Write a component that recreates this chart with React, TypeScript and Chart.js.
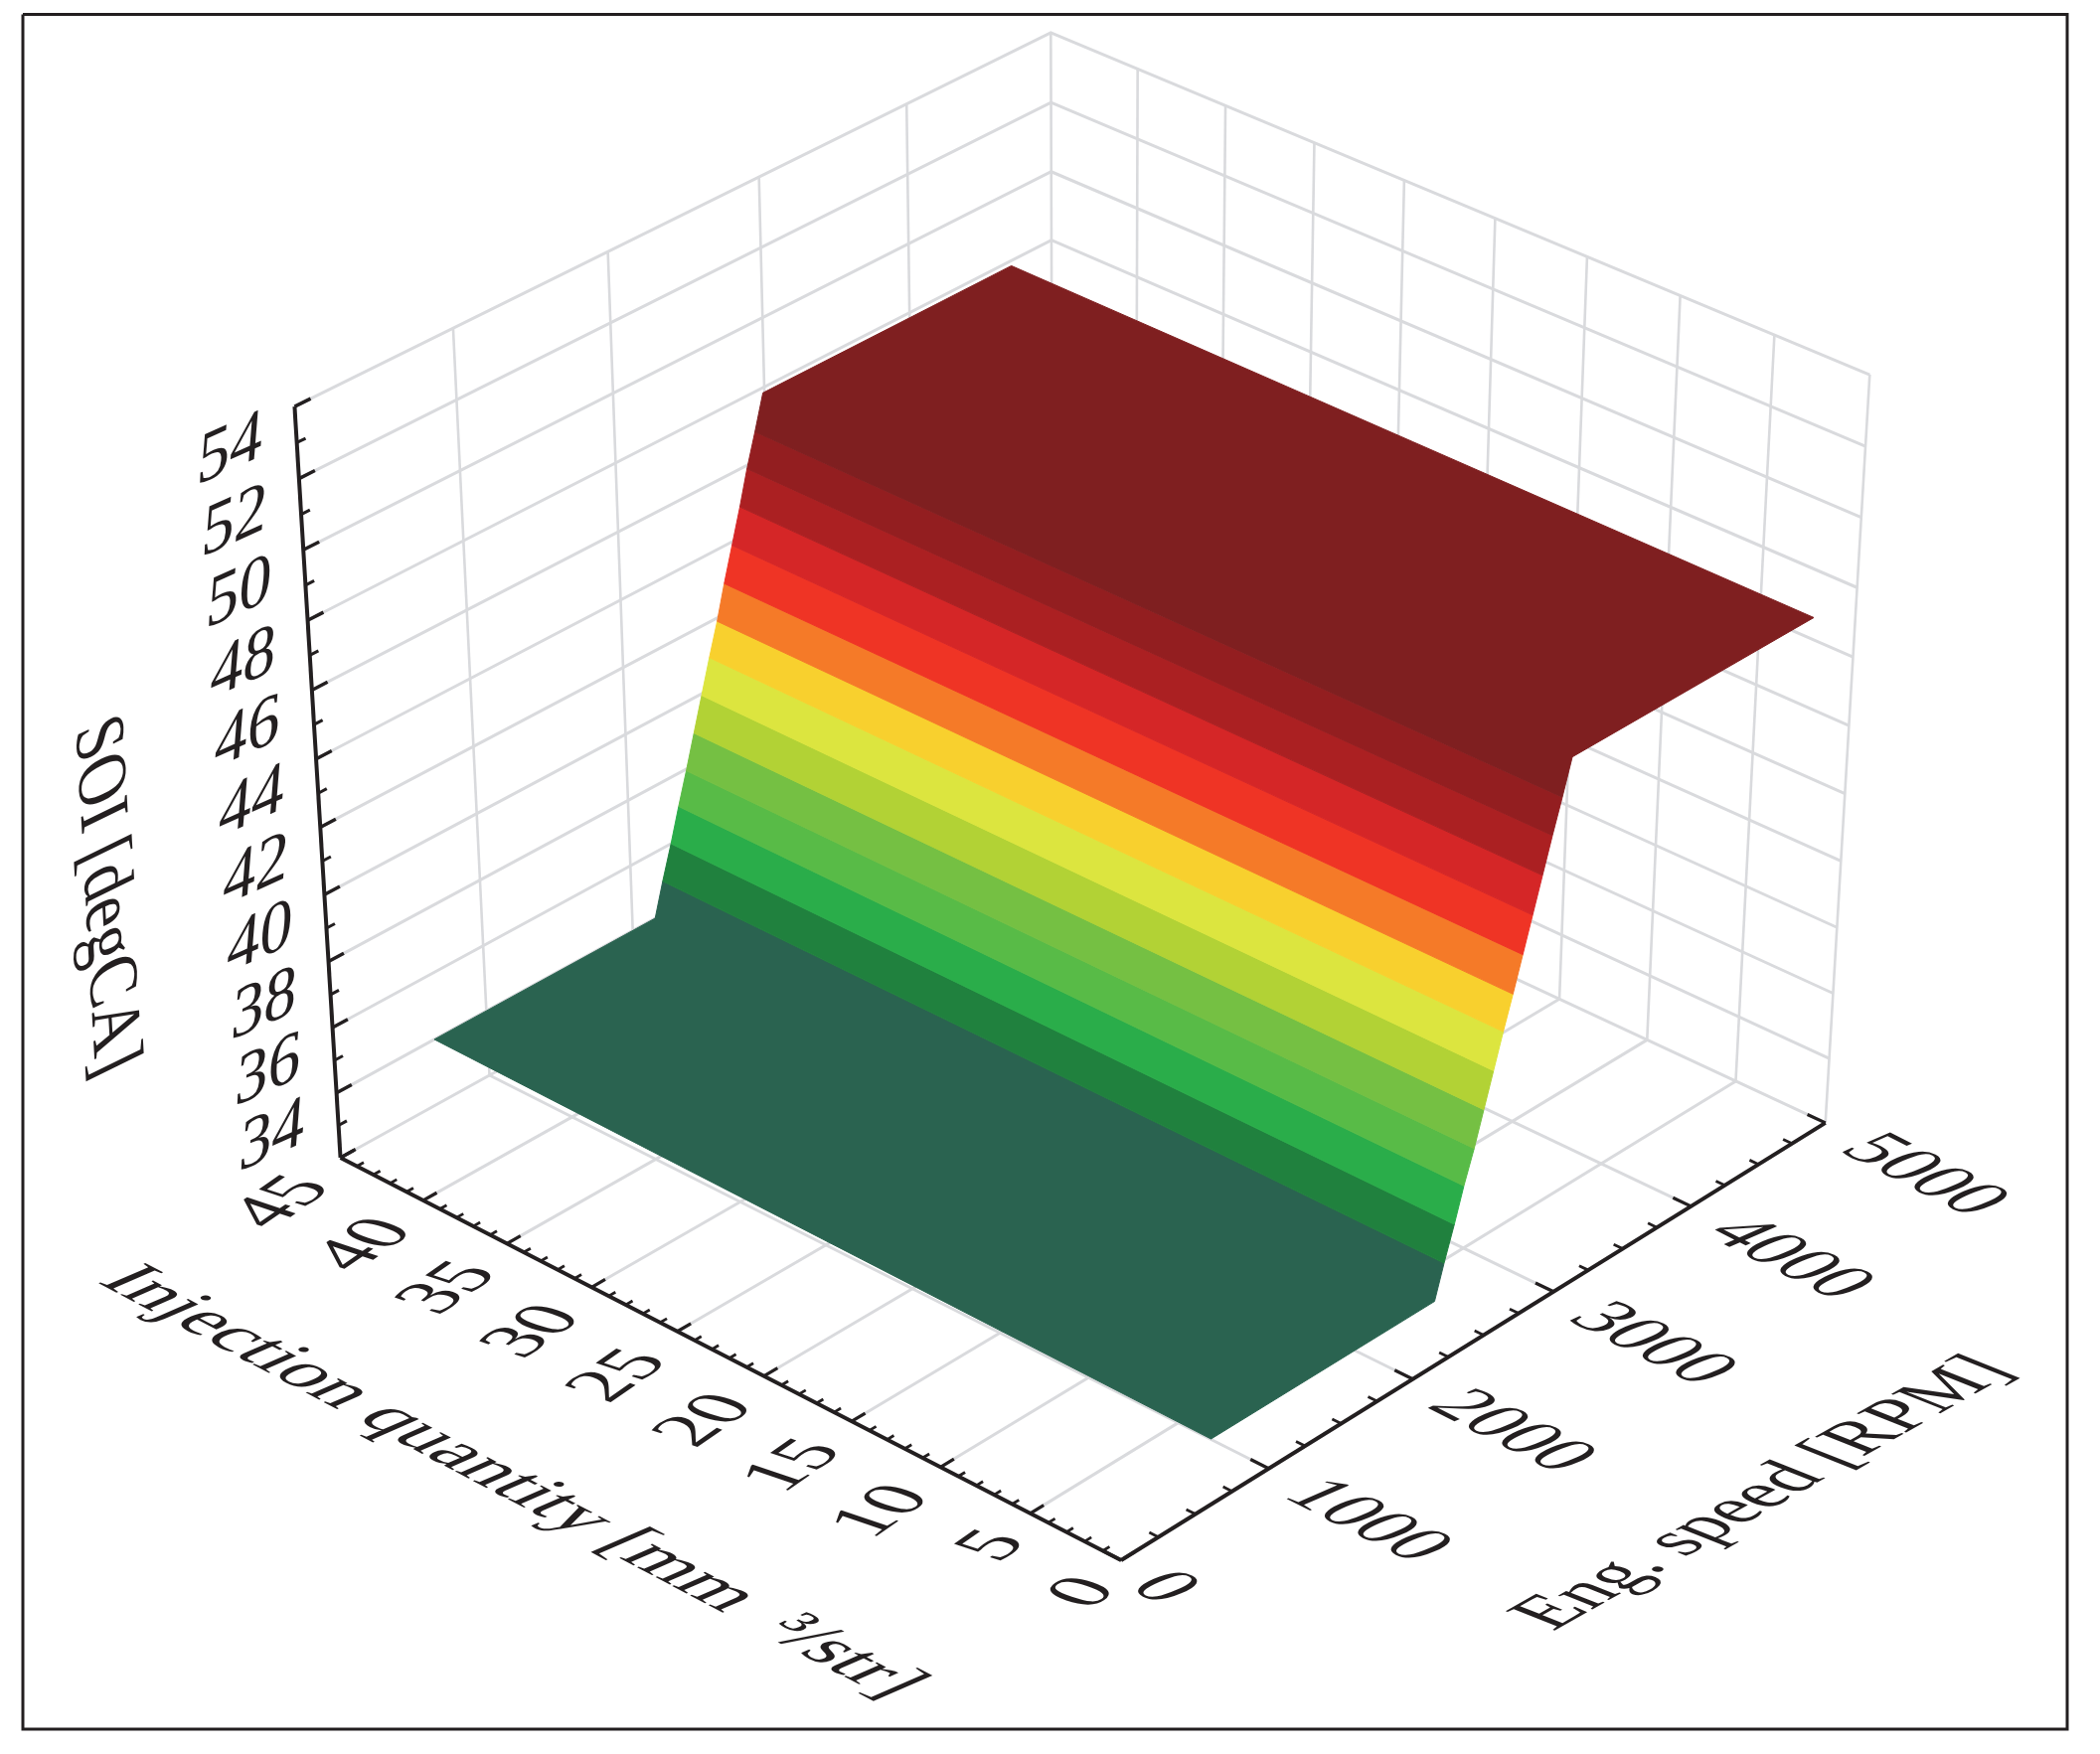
import React, { useEffect, useRef } from "react";
import { Chart, registerables } from "chart.js";

Chart.register(...registerables);

const speedMajor = [0, 1000, 2000, 3000, 4000, 5000];
const speedMinor = [250, 500, 750, 1250, 1500, 1750, 2250, 2500, 2750, 3250, 3500, 3750, 4250, 4500, 4750];
const injMajor = [0, 5, 10, 15, 20, 25, 30, 35, 40, 45];
const injMinor = [1, 2, 3, 4, 6, 7, 8, 9, 11, 12, 13, 14, 16, 17, 18, 19, 21, 22, 23, 24, 26, 27, 28, 29, 31, 32, 33, 34, 36, 37, 38, 39, 41, 42, 43, 44];
const soiMajor = [32, 34, 36, 38, 40, 42, 44, 46, 48, 50, 52, 54];
const soiMinor = [33, 35, 37, 39, 41, 43, 45, 47, 49, 51, 53];
const soiLabels = [34, 36, 38, 40, 42, 44, 46, 48, 50, 52, 54];

const soiLevels = [34, 35, 36, 37, 37.95, 38.95, 39.95, 40.95, 41.9, 42.9, 43.9, 44.9, 45.9, 46.85, 47.85];
const speedAtInj0 = [2140, 2200, 2265, 2325, 2390, 2450, 2510, 2570, 2630, 2690, 2750, 2810, 2870, 2930, 2990];
const speedAtInj45 = [2155, 2215, 2280, 2340, 2400, 2460, 2520, 2580, 2640, 2695, 2755, 2815, 2870, 2930, 2990];
const surfaceSpeedMinInj0 = 602;
const surfaceSpeedMinInj45 = 650;
const surfaceSpeedMaxInj0 = 4690;
const surfaceSpeedMaxInj45 = 4715;
const surfaceInjMin = 0;
const surfaceInjMax = 45;
const bandColors = ["#2a6350", "#20813e", "#2aad4a", "#58bb47", "#75c043", "#b2d235", "#dce53f", "#f8d02e", "#f57a28", "#ef3425", "#d52627", "#ab2022", "#931e20", "#7f1f20"];

// camera anchors: [speed, inj, soi, pixelX, pixelY]
const cameraAnchors = [
  [0, 0, 32, 1127, 1570],
  [0, 45, 32, 344, 1166],
  [5000, 0, 32, 1838, 1129],
  [5000, 45, 32, 1058, 768],
  [0, 45, 54, 296, 408],
  [5000, 45, 54, 1058, 33],
  [5000, 0, 54, 1881, 378],
];

function solveCamera(): number[] {
  const rows: number[][] = [];
  const rhs: number[] = [];
  for (const [s, i, z, X, Y] of cameraAnchors) {
    const u = s / 5000, v = i / 45, w = (z - 32) / 22;
    const x = X / 1000, y = Y / 1000;
    rows.push([u, v, w, 1, 0, 0, 0, 0, -x * u, -x * v, -x * w]);
    rhs.push(x);
    rows.push([0, 0, 0, 0, u, v, w, 1, -y * u, -y * v, -y * w]);
    rhs.push(y);
  }
  const n = 11;
  const A: number[][] = [];
  for (let a = 0; a < n; a++) {
    const r: number[] = [];
    for (let b = 0; b < n; b++) {
      let sum = 0;
      rows.forEach((row) => (sum += row[a] * row[b]));
      r.push(sum);
    }
    let t = 0;
    rows.forEach((row, k) => (t += row[a] * rhs[k]));
    r.push(t);
    A.push(r);
  }
  for (let c = 0; c < n; c++) {
    let p = c;
    for (let r = c + 1; r < n; r++) if (Math.abs(A[r][c]) > Math.abs(A[p][c])) p = r;
    [A[c], A[p]] = [A[p], A[c]];
    for (let r = 0; r < n; r++) {
      if (r === c) continue;
      const f = A[r][c] / A[c][c];
      for (let k = c; k <= n; k++) A[r][k] -= f * A[c][k];
    }
  }
  return A.map((r, i) => r[n] / r[i]);
}

const cam = solveCamera();
function project(speed: number, inj: number, soi: number) {
  const u = speed / 5000, v = inj / 45, w = (soi - 32) / 22;
  const d = cam[8] * u + cam[9] * v + cam[10] * w + 1;
  return {
    x: (1000 * (cam[0] * u + cam[1] * v + cam[2] * w + cam[3])) / d,
    y: (1000 * (cam[4] * u + cam[5] * v + cam[6] * w + cam[7])) / d,
  };
}

const GRID = "#d9dadd";
const INK = "#231f20";

function buildDatasets() {
  const list: any[] = [];
  const line = (pts: any[], color: string, width: number) =>
    list.push({ data: pts, showLine: true, pointRadius: 0, borderColor: color, borderWidth: width, fill: false, tension: 0 });
  const poly = (pts: any[], color: string) =>
    list.push({ data: [...pts, pts[0]], showLine: true, pointRadius: 0, borderColor: color, borderWidth: 1, backgroundColor: color, fill: "shape", tension: 0 });

  // frame
  line([{ x: 23, y: 14.5 }, { x: 2080, y: 14.5 }, { x: 2080, y: 1740 }, { x: 23, y: 1740 }, { x: 23, y: 14.5 }], INK, 3);

  // walls and floor grid
  for (const z of soiMajor) {
    line([project(0, 45, z), project(5000, 45, z), project(5000, 0, z)], GRID, 3);
  }
  for (const s of speedMajor) {
    if (s > 0) line([project(s, 45, 32), project(s, 45, 54)], GRID, 2.6);
    if (s > 0 && s < 5000) line([project(s, 0, 32), project(s, 45, 32)], GRID, 3);
  }
  for (const i of injMajor) {
    if (i < 45) line([project(5000, i, 32), project(5000, i, 54)], GRID, 2.6);
    if (i > 0 && i < 45) line([project(0, i, 32), project(5000, i, 32)], GRID, 3);
  }

  // surface
  const edge = (inj: number, k: number) => project(inj === surfaceInjMin ? speedAtInj0[k] : speedAtInj45[k], inj, soiLevels[k]);
  const last = soiLevels.length - 1;
  poly([
    project(surfaceSpeedMinInj45, surfaceInjMax, soiLevels[0]),
    project(surfaceSpeedMinInj0, surfaceInjMin, soiLevels[0]),
    edge(surfaceInjMin, 0), edge(surfaceInjMin, 1), edge(surfaceInjMax, 1), edge(surfaceInjMax, 0),
  ], bandColors[0]);
  for (let k = 1; k < last - 1; k++) {
    poly([edge(surfaceInjMin, k), edge(surfaceInjMin, k + 1), edge(surfaceInjMax, k + 1), edge(surfaceInjMax, k)], bandColors[k]);
  }
  poly([edge(surfaceInjMin, last - 1), edge(surfaceInjMin, last), project(surfaceSpeedMaxInj0, surfaceInjMin, soiLevels[last]),
    project(surfaceSpeedMaxInj45, surfaceInjMax, soiLevels[last]), edge(surfaceInjMax, last), edge(surfaceInjMax, last - 1)], bandColors[last - 1]);

  // axes
  line([project(0, 45, 32), project(0, 45, 54)], INK, 4);
  line([project(0, 45, 32), project(0, 0, 32)], INK, 4);
  line([project(0, 0, 32), project(5000, 0, 32)], INK, 4);
  for (const z of soiMajor) line([project(0, 45, z), project(100, 45, z)], INK, 3.4);
  for (const z of soiMinor) line([project(0, 45, z), project(55, 45, z)], INK, 3);
  for (const i of injMajor) line([project(0, i, 32), project(90, i, 32)], INK, 3.2);
  for (const i of injMinor) line([project(0, i, 32), project(45, i, 32)], INK, 2.8);
  for (const s of speedMajor) line([project(s, 0, 32), project(s, 1, 32)], INK, 3.2);
  for (const s of speedMinor) line([project(s, 0, 32), project(s, 0.5, 32)], INK, 2.8);

  const n = list.length;
  list.forEach((d, idx) => (d.order = n - idx));
  return list;
}

const FONT = '"Liberation Serif"';

function drawSheared(ctx: CanvasRenderingContext2D, text: string, x: number, y: number, size: number, ax: number, ay: number, bx: number, by: number, k: number, m: number) {
  ctx.save();
  ctx.translate(x, y);
  ctx.transform(ax * k, ay * k, bx * m, by * m, 0, 0);
  ctx.font = `${size}px ${FONT}`;
  ctx.fillStyle = INK;
  ctx.textAlign = "center";
  ctx.textBaseline = "middle";
  ctx.fillText(text, 0, 0);
  ctx.restore();
}

const textPlugin = {
  id: "sheared-labels",
  afterDatasetsDraw(chart: any) {
    const ctx = chart.ctx;
    const sx = chart.scales.x, sy = chart.scales.y;
    const at = (p: { x: number; y: number }, dx: number, dy: number) => [sx.getPixelForValue(p.x) + dx, sy.getPixelForValue(p.y) + dy];
    for (const z of soiLabels) {
      const [x, y] = at(project(0, 45, z), -65, 45);
      drawSheared(ctx, String(z), x, y, 60, 0.91, -0.41, -0.08, 1, 1.2, 1.25);
    }
    for (const i of injMajor) {
      const [dx, dy] = i < 10 ? [-37, 33] : [-58, 45];
      const [x, y] = at(project(0, i, 32), dx, dy);
      drawSheared(ctx, String(i), x, y, 60, 0.82, -0.57, 0.95, 0.32, 1.27, 1.3);
    }
    for (const s of speedMajor) {
      const [dx, dy] = s === 0 ? [42, 28] : [98, 53];
      const [x, y] = at(project(s, 0, 32), dx, dy);
      drawSheared(ctx, String(s), x, y, 60, 0.89, 0.45, -0.92, 0.4, 1.25, 1.32);
    }
    drawSheared(ctx, "Injection quantity [mm  ³/str]", 514, 1492, 60, 0.885, 0.467, -0.92, 0.4, 1.29, 1.3);
    drawSheared(ctx, "Eng. speed [RPM]", 1775, 1503, 60, 0.87, -0.49, 0.93, 0.37, 1.2, 1.35);
    drawSheared(ctx, "SOI [degCA]", 105, 903, 60, 0.055, 0.998, -0.9, 0.44, 1.1, 1.3);
  },
};

export default function App() {
  const ref = useRef<HTMLCanvasElement>(null);
  useEffect(() => {
    document.body.style.margin = "0";
    const chart = new Chart(ref.current!, {
      type: "scatter",
      data: { datasets: buildDatasets() },
      options: {
        animation: false,
        responsive: false,
        devicePixelRatio: 1,
        layout: { padding: 0 },
        plugins: { legend: { display: false }, tooltip: { enabled: false }, title: { display: false } },
        scales: {
          x: { type: "linear", min: 0, max: 2113, display: false },
          y: { type: "linear", min: 0, max: 1765, reverse: true, display: false },
        },
      },
      plugins: [textPlugin],
    } as any);
    return () => chart.destroy();
  }, []);
  return <canvas ref={ref} width={2113} height={1765} style={{ display: "block", background: "#fff" }} />;
}
